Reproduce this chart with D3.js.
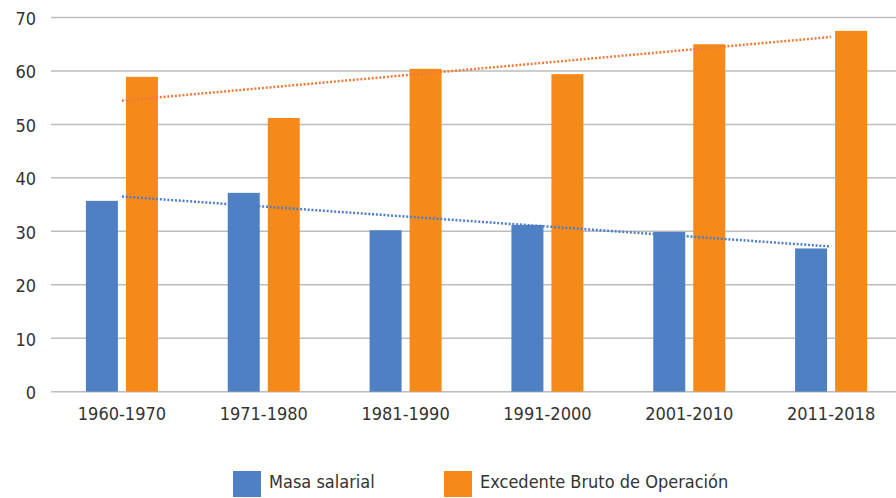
<!DOCTYPE html>
<html>
<head>
<meta charset="utf-8">
<script src="https://cdn.jsdelivr.net/npm/d3@7"></script>
<style>
  html, body { margin: 0; padding: 0; background: #fff; }
  svg { display: block; }
  text { font-family: "Liberation Sans Narrow", "DejaVu Sans Condensed", "Lato", sans-serif; fill: #333; }
</style>
</head>
<body>
<svg id="chart" width="896" height="498"></svg>
<script>
const categories = ["1960-1970", "1971-1980", "1981-1990", "1991-2000", "2001-2010", "2011-2018"];
const seriesNames = ["Masa salarial", "Excedente Bruto de Operación"];
const masaSalarial = [35.7, 37.2, 30.2, 31.2, 29.9, 26.8];
const excedente = [58.9, 51.2, 60.4, 59.4, 65.0, 67.5];
const yTicks = [0, 10, 20, 30, 40, 50, 60, 70];
const colors = ["#5080c4", "#f58a1a"];
const trendColors = ["#4f7dc8", "#f07a3a"];
const FONT = '"Liberation Sans Narrow", "DejaVu Sans Condensed", "Lato", sans-serif';

const svg = d3.select("#chart");
const x0 = d3.scaleBand().domain(categories).range([51, 902]).paddingInner(0).paddingOuter(0);
const bw = x0.bandwidth();
const x1 = d3.scaleBand().domain(seriesNames).range([bw / 2 - 36, bw / 2 + 36]).paddingInner(0.2).paddingOuter(0);
const y = d3.scaleLinear().domain([0, 70]).range([391.7, 17.5]);

// gridlines
svg.append("g").selectAll("line").data(yTicks).join("line")
  .attr("x1", 51).attr("x2", 902)
  .attr("y1", d => y(d)).attr("y2", d => y(d))
  .attr("stroke", "#bdbdbd").attr("stroke-width", 1.5);

// y axis labels
const yAxis = d3.axisLeft(y).tickValues(yTicks).tickSize(0).tickPadding(0);
const ya = svg.append("g").attr("transform", "translate(36,0)").call(yAxis);
ya.select(".domain").remove();
ya.selectAll("text").attr("font-size", 18).attr("fill", "#333").attr("dy", "0.38em")
  .style("font-family", FONT);

// x axis labels
const xAxis = d3.axisBottom(x0).tickSize(0).tickPadding(0);
const xa = svg.append("g").attr("transform", "translate(0,420)").call(xAxis);
xa.select(".domain").remove();
xa.selectAll("text").attr("font-size", 18).attr("fill", "#333").attr("dy", 0)
  .style("font-family", FONT);

// bars
const data = categories.map((c, i) => ({ cat: c, vals: [masaSalarial[i], excedente[i]] }));
const groups = svg.append("g").selectAll("g").data(data).join("g")
  .attr("transform", d => `translate(${x0(d.cat)},0)`);
groups.selectAll("rect").data(d => d.vals.map((v, k) => ({ k, v }))).join("rect")
  .attr("x", d => x1(seriesNames[d.k]))
  .attr("width", x1.bandwidth())
  .attr("y", d => y(d.v))
  .attr("height", d => y(0) - y(d.v))
  .attr("fill", d => colors[d.k]);

// trend lines (linear regression)
function regress(vals) {
  const xs = vals.map((_, i) => i + 1);
  const mx = d3.mean(xs), my = d3.mean(vals);
  const b = d3.sum(xs.map((xv, i) => (xv - mx) * (vals[i] - my))) / d3.sum(xs.map(xv => (xv - mx) ** 2));
  const a = my - b * mx;
  return xs.map(xv => a + b * xv);
}
[masaSalarial, excedente].forEach((vals, k) => {
  const fit = regress(vals);
  const pts = [[0, fit[0]], [categories.length - 1, fit[fit.length - 1]]];
  svg.append("path")
    .attr("d", d3.line().x(p => x0(categories[p[0]]) + bw / 2).y(p => y(p[1]))(pts))
    .attr("fill", "none").attr("stroke", trendColors[k])
    .attr("stroke-width", 2.5).attr("stroke-dasharray", "2,1.8");
});

// legend
const legend = svg.append("g");
const legendX = [233, 444];
seriesNames.forEach((s, k) => {
  legend.append("rect").attr("x", legendX[k]).attr("y", 471).attr("width", 28).attr("height", 26).attr("fill", colors[k]);
  legend.append("text").attr("x", legendX[k] + 36).attr("y", 488)
    .attr("font-size", 18).text(s);
});
</script>
</body>
</html>
